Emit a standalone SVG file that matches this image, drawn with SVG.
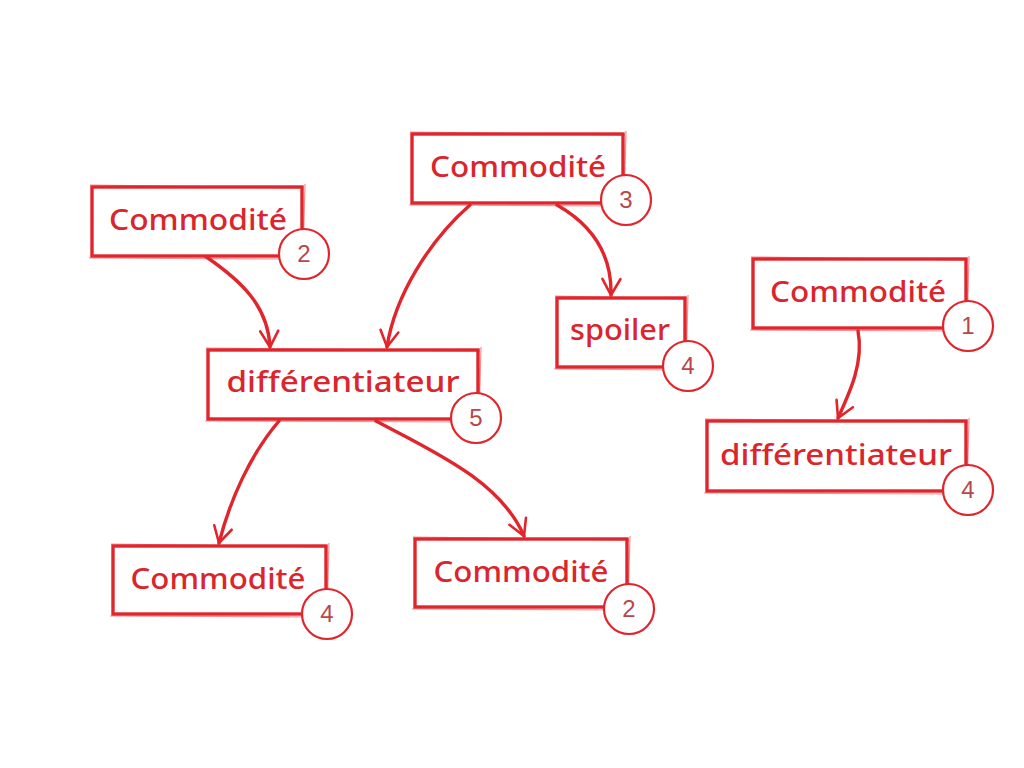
<svg xmlns="http://www.w3.org/2000/svg" width="1024" height="768" viewBox="0 0 1024 768">
<defs>
<style>
.box{fill:#fff;stroke:#e0262c;stroke-width:3.4}
.sk{fill:none;stroke:#e0262c;stroke-width:1.2;opacity:0.5}
.badge{fill:#fff;stroke:#e0262c;stroke-width:2.2}
.lbl{font-family:"Noto Sans","DejaVu Sans",sans-serif;font-size:28px;font-weight:500;fill:#db252d;text-anchor:middle}
.num{font-family:"Liberation Sans",Arial,sans-serif;font-size:24px;fill:#b9474a;text-anchor:middle}
.con{fill:none;stroke:#e0262c;stroke-width:3.4;stroke-linecap:round}
</style>
<marker id="arr" viewBox="0 0 24 24" refX="20" refY="12" markerWidth="24" markerHeight="24" markerUnits="userSpaceOnUse" orient="auto">
<path d="M4,3 L20,12 L4,21" fill="none" stroke="#e0262c" stroke-width="2.6" stroke-linecap="round"/>
</marker>
</defs>
<rect width="1024" height="768" fill="#fff"/>
<g id="connectors">
<path class="con" marker-end="url(#arr)" d="M205,256 C240,280 268,305 270,347"/>
<path class="con" marker-end="url(#arr)" d="M470,205 C430,240 395,295 387,347"/>
<path class="con" marker-end="url(#arr)" d="M557,205 C592,225 612,255 611,295"/>
<path class="con" marker-end="url(#arr)" d="M858,331 C864,362 850,392 838,418"/>
<path class="con" marker-end="url(#arr)" d="M279,421 C250,455 230,500 219,543"/>
<path class="con" marker-end="url(#arr)" d="M376,421 C430,450 500,480 524,536"/>
</g>
<g id="n1">
<rect class="box" x="92" y="187" width="210" height="69"/>
<path class="sk" d="M90,185 L304,188 M305,184 L303,258 M89,258 L297,259"/>
<text class="lbl" x="198" y="230" textLength="178" lengthAdjust="spacingAndGlyphs">Commodité</text>
<circle class="badge" cx="304" cy="254" r="25"/>
<text class="num" x="304" y="262">2</text>
</g>
<g id="n2">
<rect class="box" x="412" y="134" width="211" height="69"/>
<path class="sk" d="M410,132 L625,135 M626,131 L624,205 M409,205 L618,206"/>
<text class="lbl" x="518" y="177" textLength="176" lengthAdjust="spacingAndGlyphs">Commodité</text>
<circle class="badge" cx="626" cy="200" r="25"/>
<text class="num" x="626" y="208">3</text>
</g>
<g id="n3">
<rect class="box" x="557" y="298" width="128" height="69"/>
<path class="sk" d="M555,296 L687,299 M688,295 L686,369 M554,369 L680,370"/>
<text class="lbl" x="620" y="340" textLength="100" lengthAdjust="spacingAndGlyphs">spoiler</text>
<circle class="badge" cx="688" cy="366" r="25"/>
<text class="num" x="688" y="374">4</text>
</g>
<g id="n4">
<rect class="box" x="753" y="259" width="213" height="69"/>
<path class="sk" d="M751,257 L968,260 M969,256 L967,330 M750,330 L961,331"/>
<text class="lbl" x="858" y="302" textLength="176" lengthAdjust="spacingAndGlyphs">Commodité</text>
<circle class="badge" cx="968" cy="326" r="25"/>
<text class="num" x="968" y="334">1</text>
</g>
<g id="n5">
<rect class="box" x="208" y="350" width="270" height="69"/>
<path class="sk" d="M206,348 L480,351 M481,347 L479,421 M205,421 L473,422"/>
<text class="lbl" x="343" y="392" textLength="233" lengthAdjust="spacingAndGlyphs">différentiateur</text>
<circle class="badge" cx="476" cy="418" r="25"/>
<text class="num" x="476" y="426">5</text>
</g>
<g id="n6">
<rect class="box" x="707" y="421" width="259" height="70"/>
<path class="sk" d="M705,419 L968,422 M969,418 L967,493 M704,493 L961,494"/>
<text class="lbl" x="836" y="465" textLength="232" lengthAdjust="spacingAndGlyphs">différentiateur</text>
<circle class="badge" cx="968" cy="490" r="25"/>
<text class="num" x="968" y="498">4</text>
</g>
<g id="n7">
<rect class="box" x="113" y="546" width="213" height="68"/>
<path class="sk" d="M111,544 L328,547 M329,543 L327,616 M110,616 L321,617"/>
<text class="lbl" x="218" y="589" textLength="175" lengthAdjust="spacingAndGlyphs">Commodité</text>
<circle class="badge" cx="327" cy="614" r="25"/>
<text class="num" x="327" y="622">4</text>
</g>
<g id="n8">
<rect class="box" x="415" y="539" width="212" height="68"/>
<path class="sk" d="M413,537 L629,540 M630,536 L628,609 M412,609 L622,610"/>
<text class="lbl" x="521" y="582" textLength="175" lengthAdjust="spacingAndGlyphs">Commodité</text>
<circle class="badge" cx="629" cy="609" r="25"/>
<text class="num" x="629" y="617">2</text>
</g>
</svg>
